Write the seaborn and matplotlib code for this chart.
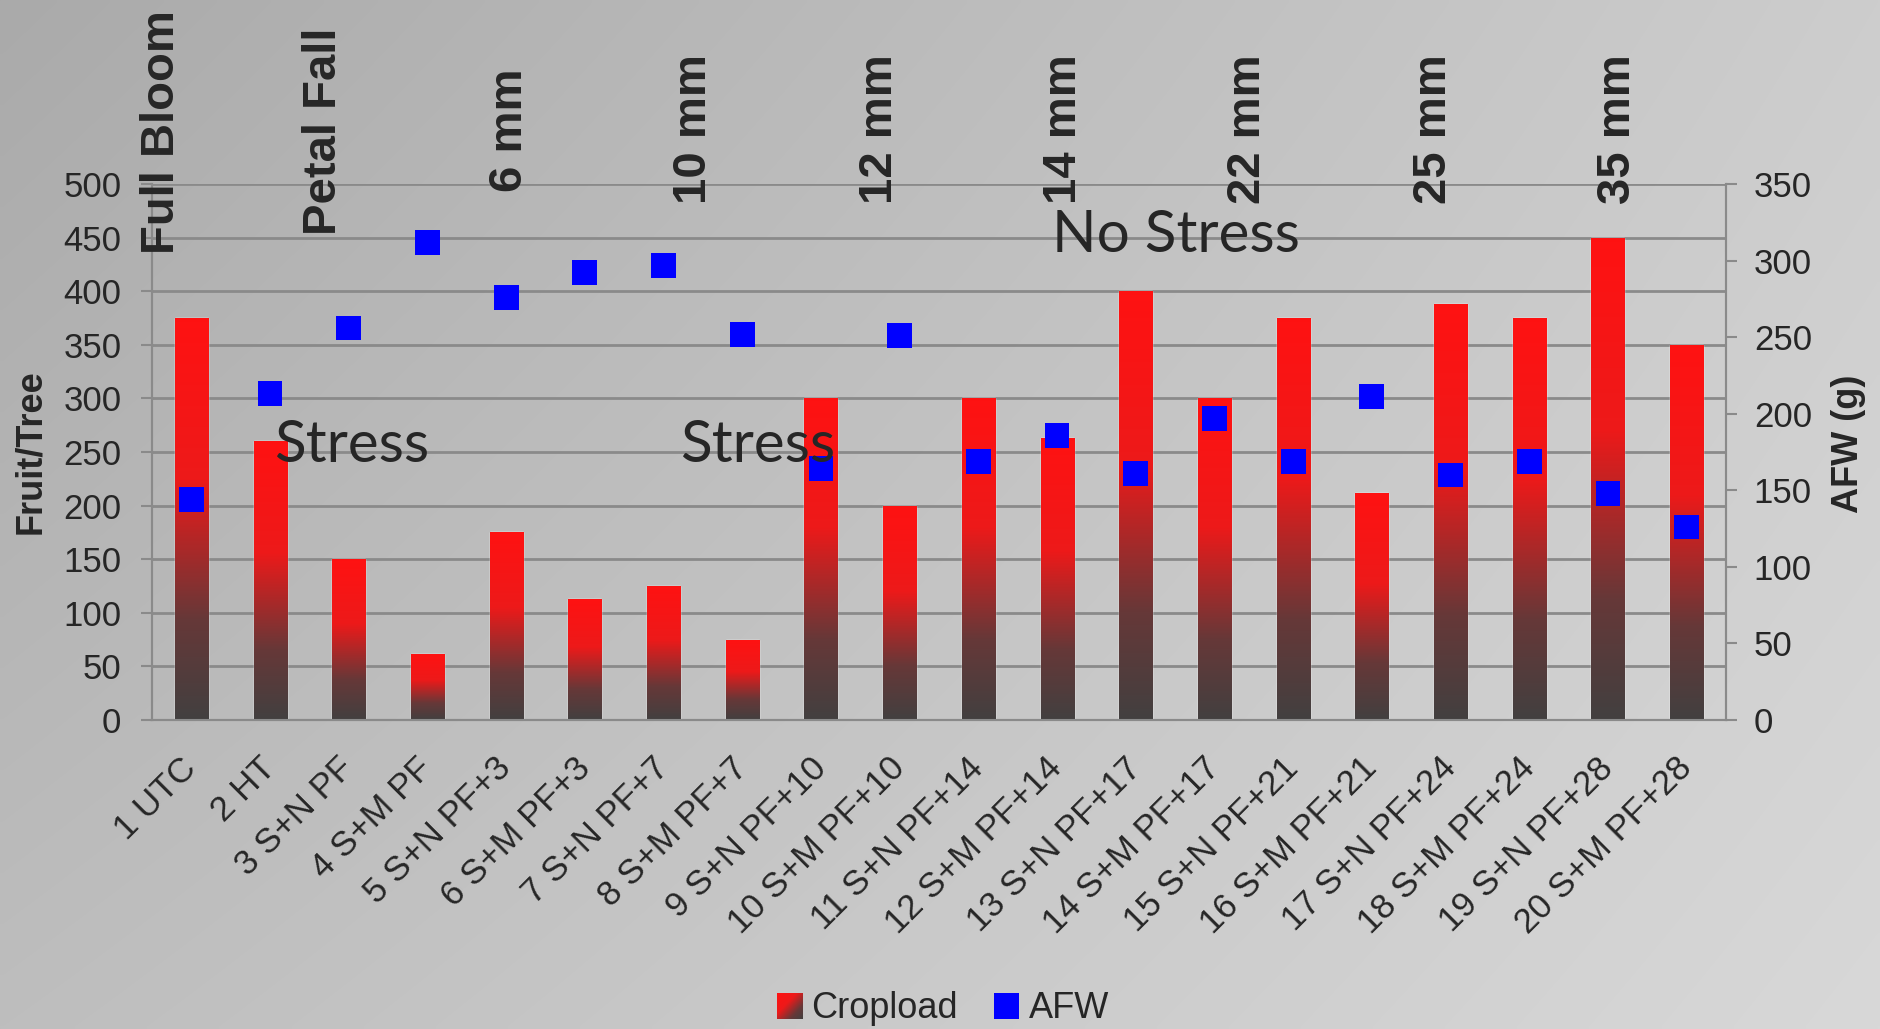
import numpy as np
import matplotlib
matplotlib.use("Agg")
import matplotlib.pyplot as plt
import seaborn as sns
from matplotlib.patches import Patch
from matplotlib.colors import LinearSegmentedColormap

# ---- data -------------------------------------------------------------
categories = ["1 UTC", "2 HT", "3 S+N PF", "4 S+M PF", "5 S+N PF+3", "6 S+M PF+3",
              "7 S+N PF+7", "8 S+M PF+7", "9 S+N PF+10", "10 S+M PF+10",
              "11 S+N PF+14", "12 S+M PF+14", "13 S+N PF+17", "14 S+M PF+17",
              "15 S+N PF+21", "16 S+M PF+21", "17 S+N PF+24", "18 S+M PF+24",
              "19 S+N PF+28", "20 S+M PF+28"]
cropload = [375, 260, 150, 62, 175, 113, 125, 75, 300, 200,
            300, 263, 400, 300, 375, 212, 388, 375, 450, 350]
afw = [144, 213, 256, 312, 276, 292, 297, 252, 164, 251,
       169, 186, 161, 197, 169, 211, 160, 169, 148, 126]
left_ticks = list(range(0, 501, 50))
right_ticks = list(range(0, 351, 50))
stage_labels = ["Full Bloom", "Petal Fall", "6 mm", "10 mm", "12 mm",
                "14 mm", "22 mm", "25 mm", "35 mm"]
zone_labels = ["Stress", "Stress", "No Stress"]
legend_labels = ["Cropload", "AFW"]

# ---- figure -----------------------------------------------------------
sns.set_style("white")
plt.rcParams["font.family"] = ["Liberation Sans", "DejaVu Sans"]

W, H = 1881, 1029
fig = plt.figure(figsize=(W / 100, H / 100), dpi=100)

# soft grey backdrop, darker top-left, lighter bottom-right
bg = fig.add_axes([0, 0, 1, 1], zorder=-10)
yy, xx = np.mgrid[0:1:200j, 0:1:300j]
tl, tr, bl, br = 170, 205, 190, 216
v = tl * (1 - xx) * (1 - yy) + tr * xx * (1 - yy) + bl * (1 - xx) * yy + br * xx * yy
bg.imshow(np.dstack([v, v, v]) / 255.0, extent=[0, 1, 0, 1], aspect="auto",
          interpolation="bilinear")
bg.set_axis_off()

px = lambda x: x / W
py = lambda y: 1 - y / H
ax = fig.add_axes([px(152), py(720), (1726 - 152) / W, (720 - 184) / H])
ax.set_facecolor("none")

grid_c = "#8a8a8a"

# crop load bars
sns.barplot(x=categories, y=cropload, ax=ax, color="#f01414", width=0.42,
            saturation=1, zorder=3)

# red-to-charcoal fade inside each bar
bar_cmap = LinearSegmentedColormap.from_list(
    "fade", [(0.0, (0.26, 0.25, 0.25)), (0.25, (0.40, 0.22, 0.22)),
             (0.6, (0.93, 0.10, 0.10)), (1.0, (1.0, 0.07, 0.07))])
ramp = np.linspace(0, 1, 256).reshape(-1, 1)
for patch in list(ax.patches):
    x0, y0 = patch.get_x(), patch.get_y()
    w, h = patch.get_width(), patch.get_height()
    im = ax.imshow(ramp, extent=[x0, x0 + w, y0, y0 + h], origin="lower",
                   aspect="auto", cmap=bar_cmap, zorder=3.5, interpolation="bilinear")
    im.set_clip_path(patch)

ax.set_xlim(-0.5, len(categories) - 0.5)
ax.set_ylim(0, 500)
ax.set_yticks(left_ticks)
ax.yaxis.grid(True, color=grid_c, linewidth=2)
ax.set_axisbelow(True)

# average fruit weight on the secondary axis
ax2 = ax.twinx()
sns.scatterplot(x=categories, y=afw, ax=ax2, marker="s", s=320, color="#0000ff",
                edgecolor="none", linewidth=0, legend=False, zorder=6)
ax2.set_ylim(0, 350)
ax2.set_yticks(right_ticks)
ax2.set_xlim(-0.5, len(categories) - 0.5)

# category ticks: labels at centres, marks between bars
ax.set_xticks(range(len(categories)))
ax.set_xticklabels(categories, rotation=45, ha="right", va="center",
                   rotation_mode="anchor", fontsize=25)
ax.set_xticks(np.arange(-0.5, len(categories)), minor=True)
ax.tick_params(axis="x", which="major", length=0, pad=31)
ax.tick_params(axis="x", which="minor", length=10, width=1.5, color=grid_c,
               direction="out")
ax.tick_params(axis="y", which="major", length=8, width=1.5, color=grid_c,
               labelsize=25, pad=14, direction="out")
ax2.tick_params(axis="y", which="major", length=8, width=1.5, color=grid_c,
                labelsize=25, pad=12, direction="out")
ax.set_xlabel("")

for a in (ax, ax2):
    for side, sp in a.spines.items():
        sp.set_color(grid_c)
        sp.set_linewidth(1.5)
        sp.set_visible(side != "top")

ax.set_ylabel("Fruit/Tree", fontsize=26, fontweight="bold")
ax.yaxis.set_label_coords(-0.066, 0.5)
ax2.set_ylabel("AFW (g)", fontsize=26, fontweight="bold", rotation=90)
ax2.yaxis.set_label_coords(1.067, 0.515)

# growth stage labels along the top
stage_pos = [(162, 254), (324, 235), (510, 192), (694, 204), (880, 204),
             (1064, 204), (1248, 204), (1434, 204), (1618, 204)]
for lab, (x, y) in zip(stage_labels, stage_pos):
    fig.text(px(x), py(y), lab, rotation=90, ha="center", va="bottom",
             fontsize=34, fontweight="bold", zorder=8)

# stress zone notes
zone_pos = [(274, 462), (680, 462), (1052, 252)]
for lab, (x, y) in zip(zone_labels, zone_pos):
    fig.text(px(x), py(y), lab, ha="left", va="baseline", fontsize=42,
             family=["Lato", "DejaVu Sans"], zorder=8)

# legend
handles = [Patch(facecolor="#e81818", edgecolor="none"),
           Patch(facecolor="#0000ff", edgecolor="none")]
leg = fig.legend(handles, legend_labels, loc="center",
                 bbox_to_anchor=(px(943), py(1009)), ncol=2, frameon=False,
                 fontsize=26, handlelength=0.7, handleheight=0.75,
                 handletextpad=0.25, columnspacing=1.0)

fig.canvas.draw()
hb = leg.get_patches()[0].get_window_extent()
hax = fig.add_axes([hb.x0 / W, hb.y0 / H, hb.width / W, hb.height / H], zorder=20)
dy, dx = np.mgrid[0:1:50j, 0:1:50j]
hax.imshow(1 - (dx + dy) / 2, cmap=bar_cmap, vmin=0, vmax=1, aspect="auto",
           interpolation="bilinear")
hax.set_axis_off()

fig.savefig("out.png", dpi=100)
